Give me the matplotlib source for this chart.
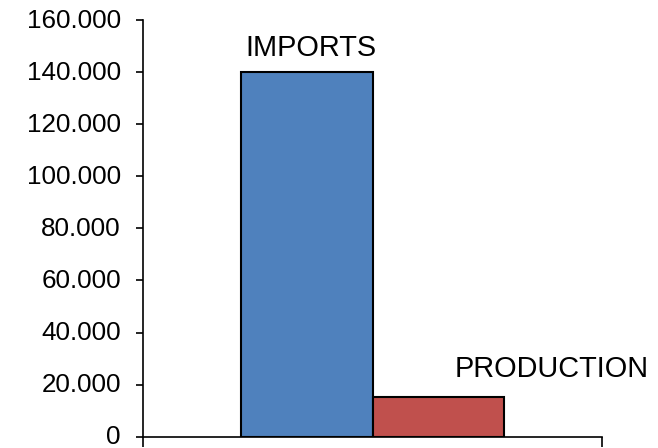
import matplotlib
matplotlib.use("Agg")
import matplotlib.pyplot as plt
import matplotlib.transforms as mtransforms
from matplotlib.ticker import FuncFormatter, MultipleLocator

plt.rcParams['font.family'] = ['Liberation Sans', 'DejaVu Sans']

series = ["IMPORTS", "PRODUCTION"]
values = [140000, 15100]
colors = ["#4F81BD", "#C0504D"]
y_max = 160000
y_step = 20000

fig = plt.figure(figsize=(6.58, 4.48), dpi=100)
ax = fig.add_axes([143/658, 1 - 436.7/448, (602 - 143)/658, (436.7 - 20)/448])

width = 0.2865
offsets = [-width/2, width/2]
for off, v, c in zip(offsets, values, colors):
    ax.bar(off, v, width=width, color=c, edgecolor="black", linewidth=1.5, zorder=2)

# series name labels
ax.annotate(series[0], xy=(offsets[0], values[0]), xytext=(3, 7), textcoords="offset points",
            ha="center", va="bottom", fontsize=20.8)
ax.annotate(series[1], xy=(offsets[1], values[1]), xytext=(82, 10.5), textcoords="offset points",
            ha="center", va="bottom", fontsize=20.8)

ax.set_xlim(-0.5, 0.5)
ax.set_ylim(0, y_max)
ax.yaxis.set_major_locator(MultipleLocator(y_step))
ax.yaxis.set_major_formatter(FuncFormatter(lambda v, p: f"{v:,.0f}".replace(",", ".")))
ax.set_xticks([-0.5, 0.5])
ax.set_xticklabels(["", ""])

for s in ["top", "right"]:
    ax.spines[s].set_visible(False)
for s in ["left", "bottom"]:
    ax.spines[s].set_linewidth(1.2)
    ax.spines[s].set_color("black")

ax.tick_params(axis="y", direction="out", length=5, width=1.2, pad=11, labelsize=18.7)
ax.tick_params(axis="x", direction="out", length=7, width=1.2)

shift = mtransforms.ScaledTranslation(0, 2/100, fig.dpi_scale_trans)
for lbl in ax.get_yticklabels():
    lbl.set_transform(lbl.get_transform() + shift)

fig.savefig("out.png", dpi=100)
